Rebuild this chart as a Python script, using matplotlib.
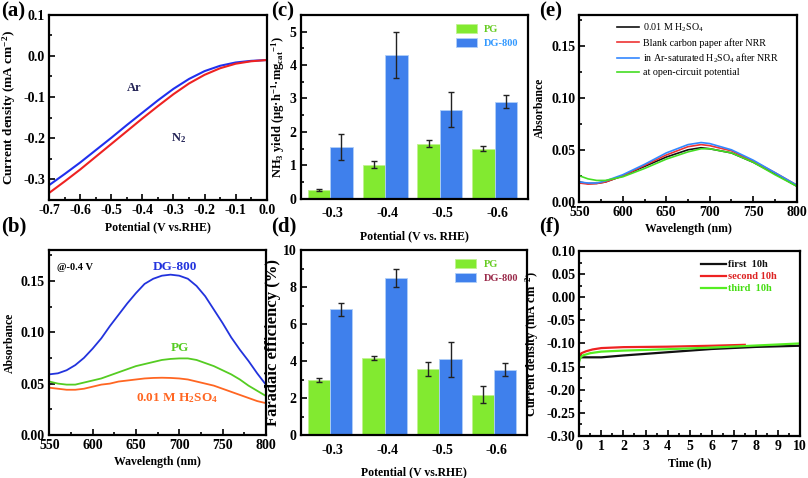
import numpy as np
import matplotlib.pyplot as plt
from matplotlib.ticker import MultipleLocator, FormatStrFormatter

plt.rcParams['font.family'] = ['Liberation Serif', 'DejaVu Serif']
plt.rcParams['font.weight'] = 'bold'
plt.rcParams['axes.labelweight'] = 'bold'
plt.rcParams['mathtext.default'] = 'regular'

## (a) LSV
pot_a = [-0.70, -0.65, -0.60, -0.55, -0.50, -0.45, -0.40, -0.35, -0.30, -0.25, -0.20, -0.15, -0.10, -0.05, 0.0]
j_ar = [-0.314, -0.287, -0.259, -0.229, -0.199, -0.168, -0.138, -0.108, -0.080, -0.056, -0.037, -0.024, -0.016, -0.012, -0.010]
j_n2 = [-0.333, -0.305, -0.276, -0.245, -0.214, -0.183, -0.152, -0.122, -0.093, -0.067, -0.046, -0.030, -0.019, -0.013, -0.010]

## (b) UV-vis at -0.4 V
wl_b = [550, 560, 570, 580, 590, 600, 610, 620, 630, 640, 650, 660, 670, 680, 690,
        700, 710, 720, 730, 740, 750, 760, 770, 780, 790, 800]
abs_dg = [0.059, 0.060, 0.063, 0.068, 0.075, 0.084, 0.094, 0.106, 0.117, 0.128, 0.138, 0.147, 0.152, 0.155, 0.156,
          0.155, 0.152, 0.145, 0.135, 0.122, 0.109, 0.095, 0.083, 0.072, 0.060, 0.049]
abs_pg = [0.052, 0.050, 0.049, 0.049, 0.051, 0.053, 0.055, 0.058, 0.061, 0.064, 0.067, 0.069, 0.071, 0.073, 0.074,
          0.0745, 0.0745, 0.073, 0.070, 0.067, 0.063, 0.059, 0.054, 0.048, 0.043, 0.038]
abs_acid = [0.046, 0.045, 0.044, 0.044, 0.045, 0.047, 0.049, 0.050, 0.052, 0.053, 0.054, 0.055, 0.0555, 0.0557, 0.0555,
            0.055, 0.054, 0.052, 0.050, 0.048, 0.045, 0.042, 0.039, 0.036, 0.033, 0.031]

## (c) NH3 yield, (d) FE
cats = ['-0.3', '-0.4', '-0.5', '-0.6']
yield_pg = [0.25, 1.02, 1.65, 1.50]
yield_pg_err = [0.03, 0.10, 0.10, 0.08]
yield_dg = [1.55, 4.30, 2.67, 2.90]
yield_dg_err = [0.38, 0.68, 0.53, 0.19]
fe_pg = [3.0, 4.18, 3.6, 2.2]
fe_pg_err = [0.12, 0.12, 0.38, 0.45]
fe_dg = [6.8, 8.5, 4.1, 3.55]
fe_dg_err = [0.35, 0.5, 0.95, 0.35]

## (e) control experiments
wl_e = [550, 560, 570, 580, 600, 625, 650, 675, 690, 700, 725, 750, 775, 800]
e_acid = [0.019, 0.0175, 0.0177, 0.019, 0.025, 0.034, 0.043, 0.050, 0.052, 0.051, 0.047, 0.038, 0.027, 0.015]
e_blank = [0.018, 0.017, 0.0175, 0.019, 0.025, 0.035, 0.045, 0.053, 0.055, 0.054, 0.049, 0.039, 0.028, 0.016]
e_ar = [0.019, 0.018, 0.018, 0.020, 0.026, 0.036, 0.047, 0.055, 0.057, 0.056, 0.050, 0.040, 0.028, 0.016]
e_ocp = [0.025, 0.022, 0.0205, 0.0205, 0.024, 0.032, 0.041, 0.048, 0.051, 0.051, 0.047, 0.038, 0.026, 0.015]

## (f) stability
t1 = [0, 0.1, 0.5, 1, 2, 4, 6, 8, 10]
j1 = [-0.131, -0.130, -0.130, -0.130, -0.126, -0.119, -0.112, -0.1075, -0.105]
t2 = [0, 0.1, 0.3, 0.6, 1, 2, 4, 6, 7.5]
j2 = [-0.126, -0.121, -0.117, -0.113, -0.110, -0.108, -0.107, -0.105, -0.103]
t3 = [0, 0.05, 0.15, 0.5, 1, 2, 4, 6, 8, 10]
j3 = [-0.138, -0.131, -0.126, -0.121, -0.1176, -0.1155, -0.1125, -0.109, -0.1045, -0.100]

green = '#82ea30'
blue = '#3f80ec'

fig = plt.figure(figsize=(8.08, 4.78), dpi=100)

def style(ax):
    for s in ax.spines.values():
        s.set_linewidth(1.6)
    ax.tick_params(direction='in', which='both', labelsize=10, width=1.2)
    ax.tick_params(which='major', length=4, pad=3)
    ax.tick_params(which='minor', length=2)
    for lab in ax.get_xticklabels() + ax.get_yticklabels():
        lab.set_fontweight('bold')

ax_a = fig.add_axes([0.061, 0.582, 0.269, 0.387])
ax_c = fig.add_axes([0.372, 0.584, 0.281, 0.385])
ax_e = fig.add_axes([0.717, 0.578, 0.269, 0.391])
ax_b = fig.add_axes([0.061, 0.090, 0.268, 0.387])
ax_d = fig.add_axes([0.372, 0.089, 0.280, 0.388])
ax_f = fig.add_axes([0.717, 0.088, 0.273, 0.387])

# (a)
ax_a.plot(pot_a, j_ar, color='#2030ee', lw=1.5)
ax_a.plot(pot_a, j_n2, color='#ee2222', lw=1.5)
ax_a.set_xlim(-0.7, 0.0)
ax_a.set_ylim(-0.35, 0.1)
ax_a.xaxis.set_major_locator(MultipleLocator(0.1))
ax_a.xaxis.set_minor_locator(MultipleLocator(0.05))
ax_a.yaxis.set_major_locator(MultipleLocator(0.1))
ax_a.yaxis.set_minor_locator(MultipleLocator(0.05))
ax_a.xaxis.set_major_formatter(FormatStrFormatter('%.1f'))
ax_a.yaxis.set_major_formatter(FormatStrFormatter('%.1f'))
ax_a.set_xlabel('Potential (V vs.RHE)', fontsize=8.5, labelpad=3)
ax_a.set_ylabel('Current density (mA cm$^{-2}$)', fontsize=9.5)
ax_a.text(-0.427, -0.078, 'Ar', fontsize=9, color='#222255', ha='center', va='center', fontweight='bold')
ax_a.text(-0.285, -0.200, 'N$_2$', fontsize=9, color='#222255', ha='center', va='center', fontweight='bold')
style(ax_a)

# (b)
ax_b.plot(wl_b, abs_dg, color='#2233dd', lw=1.3)
ax_b.plot(wl_b, abs_pg, color='#55cc22', lw=1.3)
ax_b.plot(wl_b, abs_acid, color='#ff6622', lw=1.3)
ax_b.set_xlim(550, 800)
ax_b.set_ylim(0, 0.18)
ax_b.xaxis.set_major_locator(MultipleLocator(50))
ax_b.xaxis.set_minor_locator(MultipleLocator(25))
ax_b.yaxis.set_major_locator(MultipleLocator(0.05))
ax_b.yaxis.set_minor_locator(MultipleLocator(0.025))
ax_b.yaxis.set_major_formatter(FormatStrFormatter('%.2f'))
ax_b.set_xlabel('Wavelength (nm)', fontsize=8.5, labelpad=3)
ax_b.set_ylabel('Absorbance', fontsize=8.5)
ax_b.text(559, 0.163, '@-0.4 V', fontsize=7.5, va='center', fontweight='bold')
ax_b.text(695, 0.163, 'DG-800', fontsize=9.5, color='#2233dd', ha='center', va='center', fontweight='bold')
ax_b.text(701, 0.085, 'PG', fontsize=9.5, color='#55cc22', ha='center', va='center', fontweight='bold')
ax_b.text(697, 0.036, '0.01 M H$_2$SO$_4$', fontsize=9.5, color='#ff6622', ha='center', va='center',
          fontweight='bold')
style(ax_b)

# (c) and (d)
x = np.arange(1, 5)
w = 0.41
errkw = dict(ecolor='#222222', elinewidth=1.0, capsize=2, capthick=1.0)
for ax, pg, pge, dg, dge, ymax, leg_dg_col in [
        (ax_c, yield_pg, yield_pg_err, yield_dg, yield_dg_err, 5.5, '#3399ff'),
        (ax_d, fe_pg, fe_pg_err, fe_dg, fe_dg_err, 10, '#9a2a4a')]:
    ax.bar(x - 0.255, pg, w, yerr=pge, color=green, edgecolor='#c0f290',
           lw=0.6, error_kw=errkw, label='PG')
    ax.bar(x + 0.155, dg, w, yerr=dge, color=blue, edgecolor='#b0cff8',
           lw=0.6, error_kw=errkw, label='DG-800')
    ax.set_xlim(0.41, 4.55)
    ax.set_ylim(0, ymax)
    ax.set_xticks(x)
    ax.set_xticklabels(cats)
    leg = ax.legend(loc='upper right', frameon=False, handlelength=2.0,
                    handleheight=1.0, borderaxespad=0.45, labelspacing=0.35, handletextpad=0.7,
                    prop={'weight': 'bold', 'size': 7.5})
    leg.get_texts()[0].set_color('#66cc22')
    leg.get_texts()[1].set_color(leg_dg_col)
    style(ax)
    ax.tick_params(axis='x', which='major', length=0, pad=6)

ax_c.yaxis.set_major_locator(MultipleLocator(1))
ax_c.yaxis.set_minor_locator(MultipleLocator(0.5))
ax_c.set_xlabel('Potential (V vs. RHE)', fontsize=8.5, labelpad=7)
ax_c.set_ylabel('NH$_3$ yield (μg·h$^{-1}$·mg$_{cat}$$^{-1}$)', fontsize=9, labelpad=2)
ax_d.yaxis.set_major_locator(MultipleLocator(2))
ax_d.yaxis.set_minor_locator(MultipleLocator(1))
ax_d.set_xlabel('Potential (V vs.RHE)', fontsize=8.5, labelpad=7)
ax_d.set_ylabel('Faradaic efficiency (%)', fontsize=12, labelpad=1)

# (e)
ax_e.plot(wl_e, e_acid, color='#111111', lw=1.2, label='0.01 M H$_2$SO$_4$')
ax_e.plot(wl_e, e_blank, color='#ee3333', lw=1.2, label='Blank carbon paper after NRR')
ax_e.plot(wl_e, e_ar, color='#3388ff', lw=1.2, label='in Ar-saturated H$_2$SO$_4$ after NRR')
ax_e.plot(wl_e, e_ocp, color='#44dd22', lw=1.2, label='at open-circuit potential')
ax_e.set_xlim(550, 800)
ax_e.set_ylim(0, 0.18)
ax_e.xaxis.set_major_locator(MultipleLocator(50))
ax_e.xaxis.set_minor_locator(MultipleLocator(25))
ax_e.yaxis.set_major_locator(MultipleLocator(0.05))
ax_e.yaxis.set_minor_locator(MultipleLocator(0.025))
ax_e.yaxis.set_major_formatter(FormatStrFormatter('%.2f'))
ax_e.set_xlabel('Wavelength (nm)', fontsize=8.5, labelpad=3)
ax_e.set_ylabel('Absorbance', fontsize=8.5)
ax_e.legend(loc='upper left', bbox_to_anchor=(0.14, 1.0), frameon=False,
            prop={'weight': 'normal', 'size': 7.2}, handlelength=2.2, handletextpad=0.4,
            labelspacing=0.35, borderaxespad=0.3)
style(ax_e)

# (f)
ax_f.plot(t1, j1, color='#111111', lw=1.6, label='first  10h')
ax_f.plot(t2, j2, color='#ee2222', lw=1.6, label='second 10h')
ax_f.plot(t3, j3, color='#55ee22', lw=1.6, label='third  10h')
ax_f.set_xlim(0, 10)
ax_f.set_ylim(-0.30, 0.10)
ax_f.xaxis.set_major_locator(MultipleLocator(1))
ax_f.xaxis.set_minor_locator(MultipleLocator(0.5))
ax_f.yaxis.set_major_locator(MultipleLocator(0.05))
ax_f.yaxis.set_minor_locator(MultipleLocator(0.025))
ax_f.yaxis.set_major_formatter(FormatStrFormatter('%.2f'))
ax_f.set_xlabel('Time (h)', fontsize=8.5, labelpad=3)
ax_f.set_ylabel('Current density (mA cm$^{-2}$)', fontsize=9)
leg = ax_f.legend(loc='upper right', bbox_to_anchor=(0.93, 0.99), frameon=False,
                  prop={'weight': 'bold', 'size': 7.5},
                  handlelength=2.4, handletextpad=0.2, labelspacing=0.25, borderaxespad=0.3)
for t, c in zip(leg.get_texts(), ['#111111', '#dd2222', '#44dd11']):
    t.set_color(c)
style(ax_f)

# panel labels
for lab, xx, yy in [('(a)', 0.002, 0.996), ('(c)', 0.335, 0.996), ('(e)', 0.667, 0.996),
                    ('(b)', 0.002, 0.548), ('(d)', 0.335, 0.548), ('(f)', 0.667, 0.548)]:
    fig.text(xx, yy, lab, fontsize=15, fontweight='bold', va='top')

fig.savefig('out.png', dpi=100)
